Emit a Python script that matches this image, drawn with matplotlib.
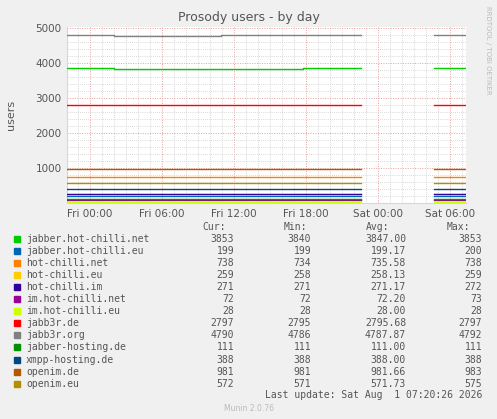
import numpy as np
import matplotlib.pyplot as plt
from matplotlib.patches import Rectangle

# hours relative to Fri 00:00; NaN marks the data gap
names = ["jabber.hot-chilli.net", "jabber.hot-chilli.eu", "hot-chilli.net", "hot-chilli.eu",
         "hot-chilli.im", "im.hot-chilli.net", "im.hot-chilli.eu", "jabb3r.de", "jabb3r.org",
         "jabber-hosting.de", "xmpp-hosting.de", "openim.de", "openim.eu"]
colors = ["#00cc00", "#0066b3", "#ff8000", "#ffcc00", "#330099", "#990099", "#ccff00",
          "#ff0000", "#808080", "#008f00", "#00487d", "#b35a00", "#b38f00"]
cur = ["3853", "199", "738", "259", "271", "72", "28", "2797", "4790", "111", "388", "981", "572"]
mins = ["3840", "199", "734", "258", "271", "72", "28", "2795", "4786", "111", "388", "981", "571"]
avgs = ["3847.00", "199.17", "735.58", "258.13", "271.17", "72.20", "28.00", "2795.68",
        "4787.87", "111.00", "388.00", "981.66", "571.73"]
maxs = ["3853", "200", "738", "259", "272", "73", "28", "2797", "4792", "111", "388", "983", "575"]

# step series: (time breakpoints, values)
t_bp = [-1.9, 2.0, 10.9, 17.8, 22.6, 28.7, 31.3]
series = {
    "jabber.hot-chilli.net": [3853, 3840, 3840, 3853, np.nan, 3853],
    "jabb3r.org":            [4790, 4786, 4790, 4790, np.nan, 4790],
}
flat = {"jabber.hot-chilli.eu": 199, "hot-chilli.net": 738, "hot-chilli.eu": 259,
        "hot-chilli.im": 271, "im.hot-chilli.net": 72, "im.hot-chilli.eu": 28,
        "jabb3r.de": 2797, "jabber-hosting.de": 111, "xmpp-hosting.de": 388,
        "openim.de": 981, "openim.eu": 572}
xticks = [0, 6, 12, 18, 24, 30]
xlabels = ["Fri 00:00", "Fri 06:00", "Fri 12:00", "Fri 18:00", "Sat 00:00", "Sat 06:00"]

bg = "#f0f0f0"
fig = plt.figure(figsize=(4.97, 4.19), dpi=100, facecolor=bg)
ax = fig.add_axes([67/497, 1-203/419, 399/497, 176/419])
ax.set_facecolor("white")

for name, c in zip(names, colors):
    vals = series.get(name, [flat.get(name)] * 4 + [np.nan, flat.get(name)])
    vals = list(vals) + [vals[-1]]
    ax.step(t_bp, vals, where="post", color=c, lw=1.0, zorder=3)

ax.set_xlim(-1.9, 31.35)
ax.set_ylim(0, 5030)
ax.set_xticks(xticks)
ax.set_xticklabels(xlabels)
ax.set_xticks(np.arange(-1, 32, 1), minor=True)
ax.set_yticks([1000, 2000, 3000, 4000, 5000])
ax.set_yticks(np.arange(200, 5001, 200), minor=True)
ax.grid(which="minor", color="#cccccc", ls=(0, (1, 1.5)), lw=0.6)
ax.grid(which="major", color="#e8a0a0", ls=(0, (1, 1.5)), lw=0.7)
ax.tick_params(which="both", length=0, labelsize=7.5, colors="#555555", pad=4)
for s in ["top", "right"]:
    ax.spines[s].set_visible(False)
for s in ["left", "bottom"]:
    ax.spines[s].set_color("#ccd8f0")
ax.set_ylabel("users", fontsize=8, color="#555555", labelpad=14)
fig.text(0.5, 1-18/419, "Prosody users - by day", ha="center", va="center",
         fontsize=9, color="#555555")
fig.text(488/497, 1-6/419, "RRDTOOL / TOBI OETIKER", rotation=270, ha="center",
         va="top", fontsize=5, color="#bbbbbb")

mono = dict(family="DejaVu Sans Mono", fontsize=7, color="#555555", va="center")
hy = 227
for lbl, xr in [("Cur:", 226), ("Min:", 307), ("Avg:", 389), ("Max:", 470)]:
    fig.text(xr/497, 1-hy/419, lbl, ha="right", **mono)
for i, (n, c) in enumerate(zip(names, colors)):
    y = 239 + i*12.05
    fig.patches.append(Rectangle((14/497, 1-(y+3)/419), 6/497, 6/419,
                                 transform=fig.transFigure, color=c))
    fig.text(26/497, 1-y/419, n, ha="left", **mono)
    for v, xr in [(cur[i], 234), (mins[i], 311), (avgs[i], 406), (maxs[i], 482)]:
        fig.text(xr/497, 1-y/419, v, ha="right", **mono)
fig.text(482/497, 1-395/419, "Last update: Sat Aug  1 07:20:26 2026", ha="right", **mono)
fig.text(249/497, 1-408/419, "Munin 2.0.76", ha="center", va="center",
         fontsize=5.5, color="#bbbbbb")

fig.savefig("out.png", dpi=100, facecolor=bg)
